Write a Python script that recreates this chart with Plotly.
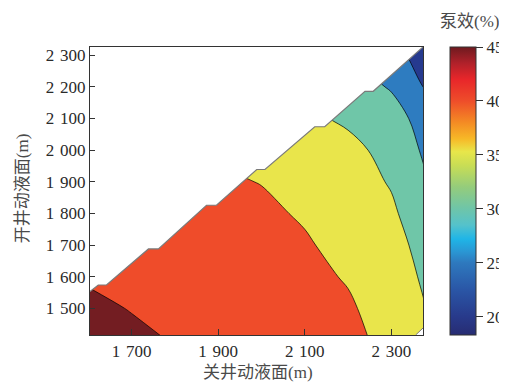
import plotly.graph_objects as go

# ---- data ----
closed_level = [1600, 1700, 1800, 1900, 2000, 2100, 2200, 2300, 2400]          # x: 关井动液面 (m)
open_level = [1400, 1500, 1600, 1700, 1800, 1900, 2000, 2100, 2200, 2300, 2400]  # y: 开井动液面 (m)
pump_eff = [  # 泵效 (%), rows follow open_level, columns follow closed_level
    [46.5, 45.8, 44.8, 44.0, 43.1, 42.2, 41.3, 38.6, 34.7],
    [45.8, 44.85, 44.0, 43.1, 42.2, 41.3, 40.5, 38.2, 34.2],
    [44.6, 44.0, 43.2, 42.4, 41.6, 41.0, 39.7, 37.3, 33.5],
    [43.6, 43.1, 42.5, 41.8, 41.0, 40.4, 38.8, 36.7, 32.5],
    [42.5, 42.0, 41.5, 40.9, 40.7, 39.6, 38.0, 35.8, 30.8],
    [41.4, 41.0, 40.6, 40.5, 39.9, 38.9, 37.3, 34.6, 29.3],
    [40.4, 40.1, 39.8, 39.4, 38.5, 37.6, 36.2, 33.6, 28.0],
    [39.2, 38.9, 38.5, 37.9, 37.0, 35.9, 34.3, 32.0, 27.0],
    [38.0, 37.6, 37.0, 36.4, 35.5, 34.2, 32.3, 29.6, 23.3],
    [36.8, 36.3, 35.6, 34.8, 33.8, 32.2, 29.9, 27.5, 20.5],
    [35.5, 35.0, 34.2, 33.2, 32.0, 30.2, 27.5, 24.5, 19.0],
]

# stepped edge of the valid (open <= closed) domain
edge_x = [1604, 1623, 1642, 1739, 1762, 1873, 1896, 1989, 2008, 2123, 2146, 2239, 2258, 2373]
edge_y = [1553, 1574, 1574, 1688, 1688, 1826, 1826, 1939, 1939, 2074, 2074, 2186, 2186, 2326]
# small empty corner at bottom right
corner_x = [2356, 2373, 2373]
corner_y = [1416, 1416, 1438]

SP = "\u2004"  # thin thousands separator
x_ticks = [1700, 1900, 2100, 2300]
x_ticktext = ["1" + SP + "700", "1" + SP + "900", "2" + SP + "100", "2" + SP + "300"]
y_ticks = [1500, 1600, 1700, 1800, 1900, 2000, 2100, 2200, 2300]
y_ticktext = ["1" + SP + "500", "1" + SP + "600", "1" + SP + "700", "1" + SP + "800",
              "1" + SP + "900", "2" + SP + "000", "2" + SP + "100", "2" + SP + "200",
              "2" + SP + "300"]
cb_ticks = [20, 25, 30, 35, 40, 45]

x_range = [1604, 2373]
y_range = [1416, 2326]
cb_min, cb_max = 18.3, 45

# band colours (below 20, 20-25, 25-30, 30-35, 35-40, 40-45, above 45)
fill_scale = [
    [0.0, "#272F78"], [1 / 6, "#263A8F"], [2 / 6, "#2E7CC0"], [3 / 6, "#6FC6A8"],
    [4 / 6, "#E9E54B"], [5 / 6, "#EF4C2A"], [1.0, "#731D22"],
]

bar_stops = [
    (18.3, "#272C72"), (20, "#283A8B"), (22.5, "#2A56A6"), (25, "#2E79BE"),
    (26, "#2A96D3"), (27.2, "#1FB5E7"), (28.5, "#55C2CB"), (30, "#6EC5A9"),
    (32, "#94CC7C"), (34, "#C8DD55"), (35.3, "#E8E64A"), (36.5, "#F7B827"),
    (38, "#F48B24"), (40, "#EE4D2A"), (42, "#E8262A"), (43.5, "#B0212A"), (45, "#6E1A1F"),
]
bar_scale = [[(v - cb_min) / (cb_max - cb_min), c] for v, c in bar_stops]

FONT = "Liberation Serif, Times New Roman, Noto Sans CJK SC, serif"
TXT = "#2a2a2a"
TITLE_C = "#4a4a4a"

fig = go.Figure()

fig.add_trace(go.Contour(
    x=closed_level, y=open_level, z=pump_eff,
    autocontour=False,
    contours=dict(start=20, end=45, size=5, coloring="fill", showlines=True),
    line=dict(color="black", width=0.7),
    colorscale=fill_scale, showscale=False, hoverinfo="skip",
))

# white mask above the valid domain
fig.add_trace(go.Scatter(
    x=edge_x + [2385, 1590, 1590], y=edge_y + [2345, 2345, edge_y[0]],
    fill="toself", fillcolor="white", mode="none", hoverinfo="skip", showlegend=False,
))
fig.add_trace(go.Scatter(
    x=edge_x, y=edge_y, mode="lines", line=dict(color="#7a7a7a", width=1.2),
    hoverinfo="skip", showlegend=False,
))
fig.add_trace(go.Scatter(
    x=corner_x + [corner_x[0]], y=corner_y + [corner_y[0]], fill="toself", fillcolor="white",
    mode="none", hoverinfo="skip", showlegend=False,
))
fig.add_trace(go.Scatter(
    x=[corner_x[0], corner_x[2]], y=[corner_y[0], corner_y[2]], mode="lines",
    line=dict(color="#7a7a7a", width=1), hoverinfo="skip", showlegend=False,
))

# colour bar
fig.add_trace(go.Scatter(
    x=[2000], y=[1500], mode="markers", hoverinfo="skip", showlegend=False,
    marker=dict(size=1, opacity=0, color=[30], cmin=cb_min, cmax=cb_max,
                colorscale=bar_scale, showscale=True,
                colorbar=dict(
                    x=1.081, xanchor="left", xpad=0, y=0, yanchor="bottom", ypad=0,
                    len=1.0, lenmode="fraction", thickness=26, thicknessmode="pixels",
                    outlinewidth=1, outlinecolor="#333", borderwidth=0,
                    tickvals=cb_ticks, ticks="outside", ticklen=7, tickwidth=1,
                    tickcolor="#333", tickfont=dict(family=FONT, size=17, color=TXT),
                )),
))

axis_common = dict(showline=True, linecolor="#333", linewidth=1.2, mirror=True,
                   ticks="inside", tickcolor="#333", tickwidth=1, showgrid=False,
                   zeroline=False, tickfont=dict(family=FONT, size=17, color=TXT))

# the page body adds an 8 px offset, so the figure is 8 px smaller and shifted
fig.update_layout(
    width=499, height=374,
    margin=dict(l=82, r=84, t=39, b=47, autoexpand=False),
    paper_bgcolor="white", plot_bgcolor="white",
    xaxis=dict(range=x_range, tickvals=x_ticks, ticktext=x_ticktext, ticklen=6, **axis_common),
    yaxis=dict(range=y_range, tickvals=y_ticks, ticktext=y_ticktext, ticklen=5, **axis_common),
    annotations=[
        dict(text="关井动液面(m)", x=0.5045, y=-0.131, xref="paper", yref="paper",
             xanchor="center", yanchor="middle", showarrow=False,
             font=dict(family=FONT, size=17, color=TITLE_C)),
        dict(text="开井动液面(m)", x=-0.204, y=0.51, xref="paper", yref="paper",
             xanchor="center", yanchor="middle", showarrow=False, textangle=-90,
             font=dict(family=FONT, size=17, color=TITLE_C)),
        dict(text="泵效(%)", x=1.141, y=1.087, xref="paper", yref="paper",
             xanchor="center", yanchor="middle", showarrow=False,
             font=dict(family=FONT, size=17, color=TITLE_C)),
    ],
)

fig.write_html("out.html")
